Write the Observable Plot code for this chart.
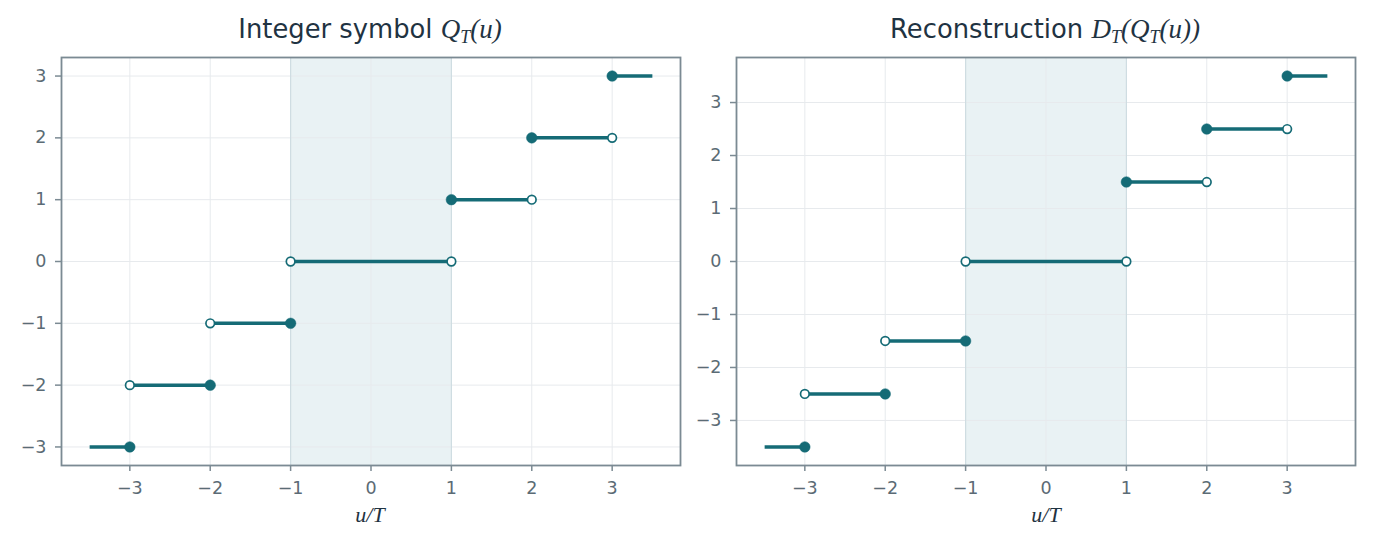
<!DOCTYPE html>
<html>
<head>
<meta charset="utf-8">
<script src="https://cdn.jsdelivr.net/npm/d3@7"></script>
<script src="https://cdn.jsdelivr.net/npm/@observablehq/plot@0.6"></script>
<style>
  body { margin: 0; background: white; }
  #wrap { position: relative; width: 1373px; height: 548px; overflow: hidden; background: white; }
  .panel { position: absolute; top: 0; z-index: 1; }
  .title { position: absolute; z-index: 2; top: 12px; font-family: "DejaVu Sans", sans-serif; font-size: 25.8px; color: #1f3342; white-space: nowrap; transform: translateX(-50%); line-height: 34px; }
  .m { font-family: "Liberation Serif", "DejaVu Serif", serif; font-style: italic; font-size: 27px; }
  .m sub { font-size: 18px; vertical-align: -5px; line-height: 0; }
  .xlabel { position: absolute; z-index: 2; top: 502px; font-family: "Liberation Serif", "DejaVu Serif", serif; font-style: italic; font-size: 22px; color: #1f3342; transform: translateX(-50%); white-space: nowrap; }
</style>
</head>
<body>
<div id="wrap">
  <div class="title" style="left:370px">Integer symbol <span class="m">Q<sub>T</sub>(u)</span></div>
  <div class="title" style="left:1045px">Reconstruction <span class="m">D<sub>T</sub>(Q<sub>T</sub>(u))</span></div>
  <div class="xlabel" style="left:370px">u/T</div>
  <div class="xlabel" style="left:1046px">u/T</div>
</div>
<script>
// ---- data ----
const segStart = [-3.5, -3, -2, -1, 1, 2, 3];
const segEnd   = [-3, -2, -1, 1, 2, 3, 3.5];
const symbols  = [-3, -2, -1, 0, 1, 2, 3];
const recon    = [-3.5, -2.5, -1.5, 0, 1.5, 2.5, 3.5];

const closedX   = [-3, -2, -1, 1, 2, 3];
const closedSym = [-3, -2, -1, 1, 2, 3];
const closedRec = [-3.5, -2.5, -1.5, 1.5, 2.5, 3.5];
const openX     = [-3, -2, -1, 1, 2, 3];
const openSym   = [-2, -1, 0, 0, 1, 2];
const openRec   = [-2.5, -1.5, 0, 0, 1.5, 2.5];

const xTicks = [-3, -2, -1, 0, 1, 2, 3];
const yTicksLeft = [-3, -2, -1, 0, 1, 2, 3];
const yTicksRight = [-3, -2, -1, 0, 1, 2, 3];
const band = [{x1: -1, x2: 1}];

const LINE = "#156b76";
const FRAME = "#7b8a93";
const TEXT = "#5b6b75";
const GRID = "#e7eaed";
const FS = 17.5;
const fmt = d => d < 0 ? "\u2212" + Math.abs(d) : String(d);

function panel(yVals, closedY, openY, yDomain, yTicks, opts) {
  const segs = segStart.map((s, i) => ({x1: s, x2: segEnd[i], y: yVals[i]}));
  const closed = closedX.map((x, i) => ({x, y: closedY[i]}));
  const open = openX.map((x, i) => ({x, y: openY[i]}));
  const svg = Plot.plot({
    width: opts.width,
    height: 548,
    marginLeft: opts.marginLeft,
    marginRight: opts.marginRight,
    marginTop: 57,
    marginBottom: 83,
    x: {domain: [-3.85, 3.85]},
    y: {domain: yDomain},
    style: {fontFamily: "DejaVu Sans, sans-serif", fontSize: FS + "px", color: TEXT, background: "transparent", overflow: "visible"},
    marks: [
      Plot.rect(band, {x1: "x1", x2: "x2", fill: "#e9f2f4"}),
      Plot.gridX(xTicks, {stroke: GRID, strokeOpacity: 1, strokeWidth: 1}),
      Plot.gridY(yTicks, {stroke: GRID, strokeOpacity: 1, strokeWidth: 1}),
      Plot.ruleX([band[0].x1, band[0].x2], {stroke: "#cfdde2", strokeWidth: 1.2}),
      Plot.axisX(xTicks, {tickFormat: fmt, tickSize: 6, tickPadding: 10, stroke: FRAME, fill: TEXT, strokeWidth: 1.5, label: null, fontSize: FS}),
      Plot.axisY(yTicks, {tickFormat: fmt, tickSize: 6, tickPadding: 9, stroke: FRAME, fill: TEXT, strokeWidth: 1.5, label: null, fontSize: FS}),
      Plot.link(segs, {x1: "x1", x2: "x2", y1: "y", y2: "y", stroke: LINE, strokeWidth: 3.5}),
      Plot.dot(closed, {x: "x", y: "y", r: 5.3, fill: LINE, stroke: LINE, strokeWidth: 0.5}),
      Plot.dot(open, {x: "x", y: "y", r: 4.3, fill: "white", stroke: LINE, strokeWidth: 1.7}),
      Plot.frame({stroke: FRAME, strokeWidth: 1.8})
    ]
  });
  d3.select(svg).selectAll("text")
    .attr("font-size", FS)
    .style("font-size", FS + "px")
    .style("font-family", "DejaVu Sans, sans-serif");
  return svg;
}

const wrap = document.getElementById("wrap");
const left = panel(symbols, closedSym, openSym, [-3.3, 3.3], yTicksLeft, {width: 686, marginLeft: 61, marginRight: 6});
left.classList.add("panel");
left.style.left = "0px";
wrap.appendChild(left);

const right = panel(recon, closedRec, openRec, [-3.85, 3.85], yTicksRight, {width: 687, marginLeft: 50, marginRight: 18});
right.classList.add("panel");
right.style.left = "686px";
wrap.appendChild(right);
</script>
</body>
</html>
